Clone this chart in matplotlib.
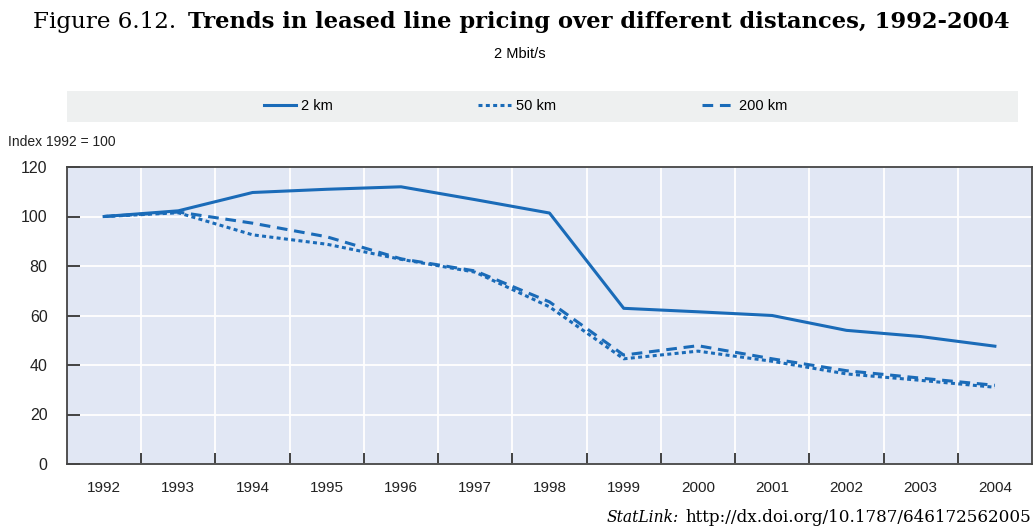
import numpy as np
import matplotlib.pyplot as plt

# dane (indeks 1992 = 100)
years = ['1992', '1993', '1994', '1995', '1996', '1997', '1998',
         '1999', '2000', '2001', '2002', '2003', '2004']
km2 = [100, 102.3, 109.7, 111, 112, 106.8, 101.4, 62.9, 61.5, 60, 54, 51.5, 47.6]
km50 = [100, 101.5, 92.6, 88.8, 82.7, 77.5, 63.5, 42.5, 45.6, 41.5, 36.4, 33.8, 31]
km200 = [100, 101.8, 97.3, 91.8, 82.9, 78, 65.5, 44, 47.8, 42.5, 37.7, 34.7, 31.8]

blue = '#1a6bb8'
sans = ['Liberation Sans', 'DejaVu Sans']
serif = 'DejaVu Serif'

fig = plt.figure(figsize=(10.36, 5.29), dpi=100)
W, H = 1036, 529
renderer = fig.canvas.get_renderer()


def fit_text(xpx, ypx, s, width, ha='left', **kw):
    # dopasowanie rozmiaru czcionki do szerokosci w pikselach
    t = fig.text(xpx / W, 1 - ypx / H, s, va='center', ha=ha, fontsize=12, **kw)
    w = t.get_window_extent(renderer).width
    t.set_fontsize(12 * width / w)
    return t


ax = fig.add_axes([67/W, 65/H, 965/W, 297/H])
ax.set_facecolor('#e1e7f4')

x = np.arange(len(years))
ax.plot(x, km2, color=blue, lw=2.2, label='2 km')
ax.plot(x, km50, color=blue, lw=2.2, ls=(0, (1.3, 1.1)), label='50 km')
ax.plot(x, km200, color=blue, lw=2.2, ls=(0, (3.5, 2.2)), label='200 km')

ax.set_xlim(-0.5, len(years) - 0.5)
ax.set_ylim(0, 120)
ax.set_yticks(np.arange(0, 121, 20))
ax.set_xticks(x)
ax.set_xticklabels(years, family=sans, fontsize=11, color='#222222')
ax.set_xticks(x[:-1] + 0.5, minor=True)
ax.tick_params(axis='x', which='major', length=0, pad=12)
ax.tick_params(axis='x', which='minor', direction='in', length=8, width=1.3, color='#333333')
ax.tick_params(axis='y', direction='in', length=9, width=1.3, color='#333333', pad=14,
               labelsize=11.5, labelcolor='#222222')
for lab in ax.get_yticklabels():
    lab.set_family(sans)
ax.grid(True, which='minor', axis='x', color='white', lw=1.3)
ax.grid(True, which='major', axis='y', color='white', lw=1.3)
ax.set_axisbelow(True)
for s in ax.spines.values():
    s.set_color('#444444')
    s.set_linewidth(1.3)

# legenda w szarym pasku
band = fig.add_axes([67/W, (H-122)/H, 951/W, 31/H])
band.set_facecolor('#eef0f0')
band.set_xticks([])
band.set_yticks([])
for s in band.spines.values():
    s.set_visible(False)
h, l = ax.get_legend_handles_labels()
band.legend(h, l, loc='center', ncol=3, frameon=False, columnspacing=10.0,
            handlelength=2.2, handletextpad=0.35,
            prop={'family': sans, 'size': 10.5}, bbox_to_anchor=(0.482, 0.5))

fig.text(8/W, 1 - 142/H, 'Index 1992 = 100', family=sans, fontsize=10,
         va='center', ha='left', color='#222222')

fit_text(33, 22, 'Figure 6.12.', 143, family=serif)
fit_text(188, 22, 'Trends in leased line pricing over different distances, 1992-2004',
         820, family=serif, fontweight='bold')
fig.text(520/W, 1 - 54/H, '2 Mbit/s', family=sans, fontsize=10.5,
         va='center', ha='center')

fit_text(607, 517, 'StatLink:', 72, family=serif, style='italic')
fit_text(1031, 517, 'http://dx.doi.org/10.1787/646172562005', 345, ha='right', family=serif)

fig.savefig('out.png', dpi=100)
